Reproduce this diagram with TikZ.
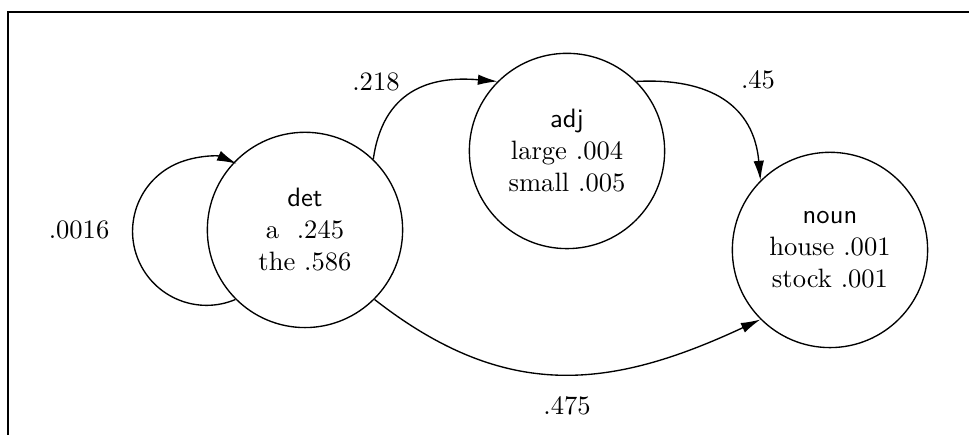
\documentclass[tikz,border=0pt]{standalone}
\usepackage{amsmath}
\usetikzlibrary{arrows.meta}

\tikzset{
  estat/.style={draw, circle, minimum size=2.79cm, inner sep=0pt, align=center, line width=0.55pt},
  trans/.style={line width=0.55pt, -{Latex[length=2.8mm,width=1.5mm]}},
}

\begin{document}
\begin{tikzpicture}[font=\fontsize{10.8pt}{13pt}\selectfont]
    \useasboundingbox (0,0) rectangle (13.843,6.214);
    % Marc (obert per baix i per la dreta)
    \draw[line width=0.8pt] (0.114,0) -- (0.114,6.043) -- (13.843,6.043);

    % Estats
    \node[estat] (det)  at (4.357,2.929)  {\textsf{det}\\ a~~.245\\ the .586};
    \node[estat] (adj)  at (8.1,4.057)    {\textsf{adj}\\ large .004\\ small .005};
    \node[estat] (noun) at (11.857,2.643) {\textsf{noun}\\ house .001\\ stock .001};

    % Transicions
    \draw[trans] (det.225) arc[start angle=-67, end angle=-294, radius=1.057]; % bucle
    \draw[trans] (det.46) to[out=82, in=175, looseness=1.2] (adj.135);
    \draw[trans] (adj.45) to[out=3, in=95, looseness=1.2] (noun.135);
    \draw[trans] (det.-45) to[out=-38, in=-155, looseness=1.1] (noun.-135);

    % Probabilitats
    \node at (1.129,2.929) {.0016};
    \node at (5.371,5.043) {.218};
    \node at (10.829,5.071) {.45};
    \node at (8.1,0.414) {.475};
\end{tikzpicture}
\end{document}
